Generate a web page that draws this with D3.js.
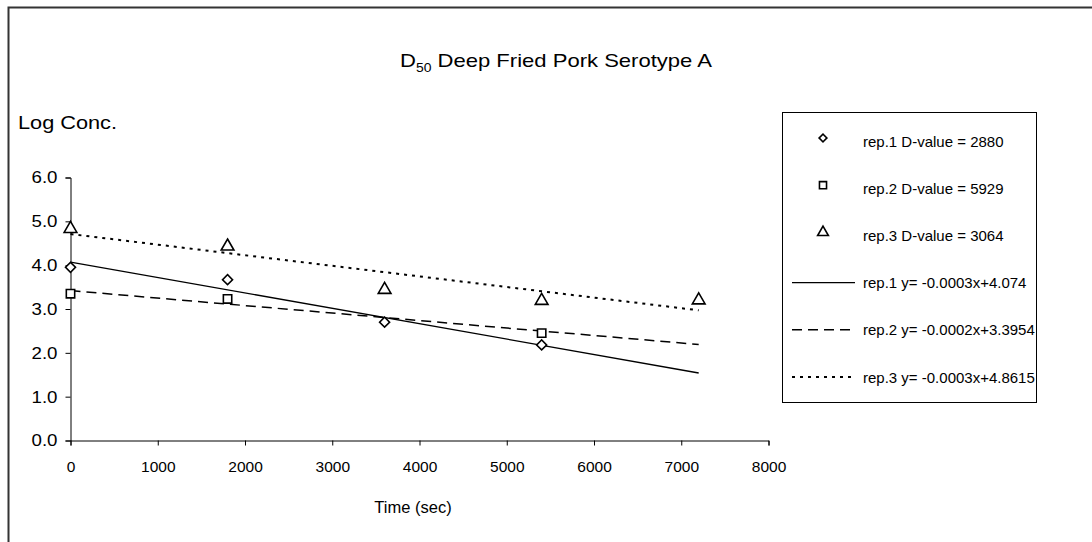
<!DOCTYPE html>
<html>
<head>
<meta charset="utf-8">
<script src="https://cdn.jsdelivr.net/npm/d3@7"></script>
<style>
  html, body { margin: 0; padding: 0; background: #fff; }
  svg { display: block; font-family: "Liberation Sans", Arial, sans-serif; }
</style>
</head>
<body>
<svg id="chart" width="1092" height="542"></svg>
<script>
// ---- data ----
const times = [0, 1800, 3600, 5400, 7200];
const rep1 = [3.95, 3.67, 2.70, 2.18, null];
const rep2 = [3.35, 3.23, null, 2.45, null];
const rep3 = [4.83, 4.43, 3.44, 3.19, 3.20];
const trendX = [0, 7200];
const trend1 = [4.07, 1.54];
const trend2 = [3.42, 2.19];
const trend3 = [4.71, 2.97];
const xTicks = [0, 1000, 2000, 3000, 4000, 5000, 6000, 7000, 8000];
const yTicks = [0, 1, 2, 3, 4, 5, 6];
const legendLabels = [
  "rep.1 D-value = 2880",
  "rep.2 D-value = 5929",
  "rep.3 D-value = 3064",
  "rep.1 y= -0.0003x+4.074",
  "rep.2 y= -0.0002x+3.3954",
  "rep.3 y= -0.0003x+4.8615"
];

const svg = d3.select("#chart");

// frame
svg.append("rect").attr("x", 8.5).attr("y", 7.5).attr("width", 1200).attr("height", 700)
  .attr("fill", "none").attr("stroke", "#333").attr("stroke-width", 2);

const x = d3.scaleLinear().domain([0, 8000]).range([70.5, 768.5]);
const y = d3.scaleLinear().domain([0, 6]).range([440.5, 177.5]);

// axes
const xAxis = d3.axisBottom(x).tickValues(xTicks).tickFormat(d3.format("d")).tickSize(5).tickSizeOuter(5);
const yAxis = d3.axisLeft(y).tickValues(yTicks).tickFormat(d3.format(".1f")).tickSize(5).tickSizeOuter(5);

const gx = svg.append("g").attr("transform", "translate(0,440.5)").call(xAxis);
const gy = svg.append("g").attr("transform", "translate(70.5,0)").call(yAxis);
[gx, gy].forEach(g => {
  g.select(".domain").attr("stroke", "#000").attr("stroke-width", 1);
  g.selectAll(".tick line").attr("stroke", "#000");
  g.selectAll(".tick text").attr("fill", "#000")
    .style("font-family", "'Liberation Sans', Arial, sans-serif");
});
gx.selectAll(".tick text").style("font-size", "15.5px").attr("y", 20);
gy.selectAll(".tick text").style("font-size", "17px").attr("x", -13)
  .attr("textLength", 26).attr("lengthAdjust", "spacingAndGlyphs");

// titles
const title = svg.append("text").attr("x", 400).attr("y", 67)
  .style("font-size", "19px").attr("fill", "#000")
  .attr("textLength", 312).attr("lengthAdjust", "spacingAndGlyphs");
title.append("tspan").text("D");
title.append("tspan").attr("dy", 5).style("font-size", "12px").text("50");
title.append("tspan").attr("dy", -5).text(" Deep Fried Pork Serotype A");

svg.append("text").attr("x", 18).attr("y", 129).style("font-size", "18px").attr("fill", "#000")
  .attr("textLength", 99).attr("lengthAdjust", "spacingAndGlyphs").text("Log Conc.");
svg.append("text").attr("x", 413).attr("y", 513).attr("text-anchor", "middle").style("font-size", "16.5px")
  .attr("fill", "#000").text("Time (sec)");

// trend lines
const styles = [
  { dash: null, width: 1.3 },
  { dash: "10,6", width: 1.5 },
  { dash: "3,5", width: 2 }
];
const trends = [trend1, trend2, trend3];
const line = d3.line().x(d => x(d[0])).y(d => y(d[1]));
trends.forEach((t, i) => {
  svg.append("path").datum(trendX.map((tx, j) => [tx, t[j]]))
    .attr("d", line).attr("fill", "none").attr("stroke", "#000")
    .attr("stroke-width", styles[i].width)
    .attr("stroke-dasharray", styles[i].dash);
});

// markers
const symTypes = [d3.symbolSquare, d3.symbolSquare, d3.symbolTriangle];
const symRot = [45, 0, 0];
const symSizes = [50, 70, 70];
const series = [rep1, rep2, rep3];
series.forEach((s, i) => {
  const pts = times.map((t, j) => [t, s[j]]).filter(d => d[1] != null);
  svg.append("g").selectAll("path").data(pts).join("path")
    .attr("transform", d => `translate(${x(d[0])},${y(d[1])}) rotate(${symRot[i]})`)
    .attr("d", d3.symbol().type(symTypes[i]).size(symSizes[i]))
    .attr("fill", "#fff").attr("stroke", "#000").attr("stroke-width", 1.6);
});

// legend
const lg = svg.append("g");
lg.append("rect").attr("x", 782.5).attr("y", 112.5).attr("width", 254).attr("height", 290)
  .attr("fill", "#fff").attr("stroke", "#000").attr("stroke-width", 1);
const rowY = i => 141 + i * 47.2;
legendLabels.forEach((lab, i) => {
  const cy = rowY(i);
  if (i < 3) {
    lg.append("path").attr("transform", `translate(823,${cy - 3}) rotate(${symRot[i]})`)
      .attr("d", d3.symbol().type(symTypes[i]).size(symSizes[i] - 20))
      .attr("fill", "#fff").attr("stroke", "#000").attr("stroke-width", 1.6);
  } else {
    const st = styles[i - 3];
    lg.append("line").attr("x1", 792).attr("x2", 855).attr("y1", cy).attr("y2", cy)
      .attr("stroke", "#000").attr("stroke-width", st.width).attr("stroke-dasharray", st.dash);
  }
  lg.append("text").attr("x", 863).attr("y", cy + 5.5).style("font-size", "15px").attr("fill", "#000").text(lab);
});
</script>
</body>
</html>
